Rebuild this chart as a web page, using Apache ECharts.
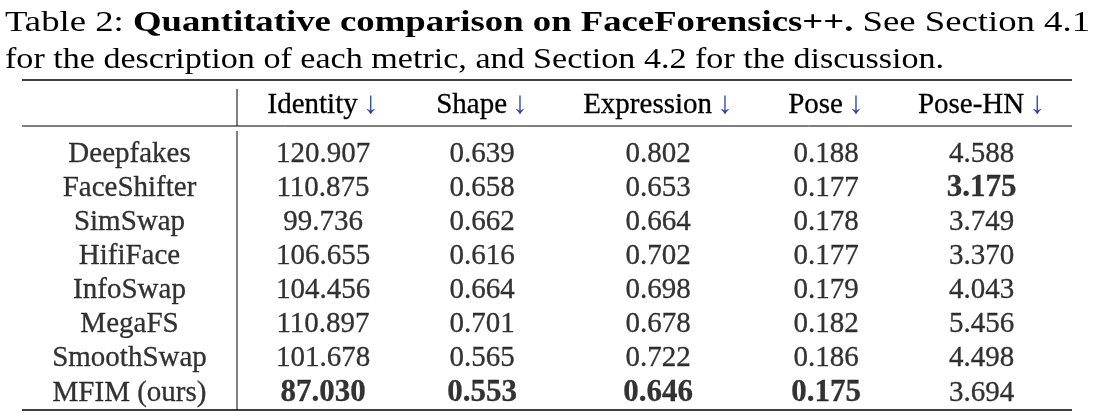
<!DOCTYPE html>
<html>
<head>
<meta charset="utf-8">
<script src="https://cdn.jsdelivr.net/npm/echarts@6/dist/echarts.min.js"></script>
<style>
  html, body { margin: 0; padding: 0; background: #fff; }
  #table { width: 1095px; height: 419px; }
</style>
</head>
<body>
<div id="table"></div>
<script>
// table content
var methods = ['Deepfakes', 'FaceShifter', 'SimSwap', 'HifiFace', 'InfoSwap', 'MegaFS', 'SmoothSwap', 'MFIM (ours)'];
var metrics = ['Identity', 'Shape', 'Expression', 'Pose', 'Pose-HN'];
var identity   = ['120.907', '110.875', '99.736', '106.655', '104.456', '110.897', '101.678', '87.030'];
var shape      = ['0.639', '0.658', '0.662', '0.616', '0.664', '0.701', '0.565', '0.553'];
var expression = ['0.802', '0.653', '0.664', '0.702', '0.698', '0.678', '0.722', '0.646'];
var pose       = ['0.188', '0.177', '0.178', '0.177', '0.179', '0.182', '0.186', '0.175'];
var poseHN     = ['4.588', '3.175', '3.749', '3.370', '4.043', '5.456', '4.498', '3.694'];
// which cells are set in bold (best value per column)
var bestRow = [7, 7, 7, 7, 1];

var captionLine1 = ['Table 2: ', 'Quantitative comparison on FaceForensics++.', ' See Section 4.1'];
var captionLine2 = 'for the description of each metric, and Section 4.2 for the discussion.';

var columns = [identity, shape, expression, pose, poseHN];

// layout
var FONT = 'Liberation Serif';
var FS = 29;
var INK = '#000';
var ARROW = '#2846a0';
var colEdges = [22, 237, 409, 555, 761, 891, 1072];
var bodyTop = 137, bodyHeight = 273;
var ruleTop = 80, ruleMid = 126, ruleBottom = 410;

function textWidth(str, weight) {
    var c = textWidth.ctx || (textWidth.ctx = document.createElement('canvas').getContext('2d'));
    c.font = (weight || 'normal') + ' ' + FS + 'px "' + FONT + '"';
    return c.measureText(str).width;
}

var chartDom = document.getElementById('table');
var myChart = echarts.init(chartDom, null, { renderer: 'canvas' });

var grids = [], xAxes = [], yAxes = [], series = [];
for (var c = 0; c < 6; c++) {
    grids.push({
        left: colEdges[c],
        width: colEdges[c + 1] - colEdges[c],
        top: bodyTop,
        height: bodyHeight
    });
    var header = c === 0 ? '' : metrics[c - 1];
    xAxes.push({
        type: 'category',
        gridIndex: c,
        position: 'top',
        data: [header],
        axisLine: { show: false },
        axisTick: { show: false },
        axisLabel: {
            show: c > 0,
            margin: 32,
            verticalAlign: 'middle',
            formatter: function (v) { return '{n|' + v + '} {a|↓}'; },
            rich: {
                n: { fontFamily: FONT, fontSize: FS, color: INK, textBorderColor: INK, textBorderWidth: 0.3 },
                a: { fontFamily: FONT, fontSize: 31, color: ARROW, padding: [0, 0, 0, 2] }
            }
        }
    });
    yAxes.push({
        type: 'category',
        gridIndex: c,
        inverse: true,
        data: methods,
        axisLine: { show: false },
        axisTick: { show: false },
        axisLabel: { show: false },
        splitLine: { show: false }
    });
    var values = c === 0 ? methods : columns[c - 1];
    series.push({
        type: 'scatter',
        xAxisIndex: c,
        yAxisIndex: c,
        symbolSize: 0,
        silent: true,
        data: values.map(function (v, i) {
            var bold = c > 0 && bestRow[c - 1] === i;
            return {
                value: [header, methods[i]],
                label: {
                    formatter: v,
                    fontWeight: bold ? 'bold' : 'normal',
                    fontSize: bold ? 31 : FS
                }
            };
        }),
        label: {
            show: true,
            position: 'inside',
            fontFamily: FONT,
            fontSize: FS,
            color: INK,
            textBorderColor: INK,
            textBorderWidth: 0.3
        }
    });
}

// caption stretched to the text block width, like the justified source
var w1 = textWidth(captionLine1[0]) + textWidth(captionLine1[1], 'bold') + textWidth(captionLine1[2]);
var w2 = textWidth(captionLine2);

var ruleStyle = { stroke: '#000', lineWidth: 1.6 };
var thin = { stroke: '#000', lineWidth: 1 };
var graphic = [
    {
        type: 'text', x: 5, y: 9, scaleX: 1085 / w1,
        style: {
            text: '{r|' + captionLine1[0] + '}{b|' + captionLine1[1] + '}{r|' + captionLine1[2] + '}',
            rich: {
                r: { fontFamily: FONT, fontSize: FS, fill: INK },
                b: { fontFamily: FONT, fontSize: FS, fontWeight: 'bold', fill: INK }
            }
        }
    },
    {
        type: 'text', x: 5, y: 46, scaleX: 939 / w2,
        style: { text: captionLine2, fontFamily: FONT, fontSize: FS, fill: INK }
    },
    { type: 'line', shape: { x1: colEdges[0], y1: ruleTop, x2: colEdges[6], y2: ruleTop }, style: ruleStyle },
    { type: 'line', shape: { x1: colEdges[0], y1: ruleMid, x2: colEdges[6], y2: ruleMid }, style: thin },
    { type: 'line', shape: { x1: colEdges[0], y1: ruleBottom, x2: colEdges[6], y2: ruleBottom }, style: ruleStyle },
    { type: 'line', shape: { x1: colEdges[1], y1: 89, x2: colEdges[1], y2: ruleMid }, style: thin },
    { type: 'line', shape: { x1: colEdges[1], y1: 131, x2: colEdges[1], y2: ruleBottom }, style: thin }
];

var option = {
    backgroundColor: '#fff',
    animation: false,
    grid: grids,
    xAxis: xAxes,
    yAxis: yAxes,
    series: series,
    graphic: graphic
};

option && myChart.setOption(option);
</script>
</body>
</html>
